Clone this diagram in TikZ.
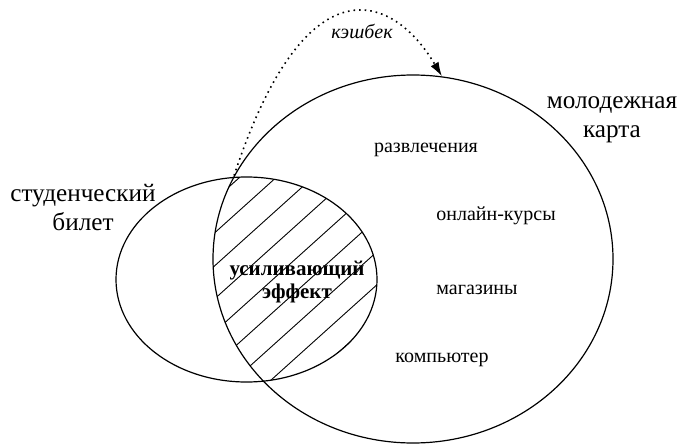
\documentclass[tikz,border=0pt]{standalone}
\usepackage{fontspec}
\setmainfont{Liberation Serif}
\usetikzlibrary{arrows.meta,shapes.geometric}

\begin{document}
\begin{tikzpicture}[
  x=0.5pt, y=-0.5pt,
  set/.style={draw, ellipse, line width=0.6pt, inner sep=0pt},
  title/.style={font=\fontsize{12.6}{14.5}\selectfont, align=center, inner sep=0pt},
  item/.style={font=\fontsize{10}{11}\selectfont, inner sep=0pt},
  effect/.style={font=\fontsize{10.5}{11.5}\selectfont\bfseries, align=center, inner sep=0pt},
  hatch/.style={line width=0.45pt},
  cashback/.style={dotted, line width=0.8pt, -{Latex[length=2.5mm,width=1.6mm]}}
]
  \useasboundingbox (0,0) rectangle (679,444);

  \node[set, minimum width=200pt, minimum height=184pt] (card) at (413,259) {};
  \node[set, minimum width=130.5pt, minimum height=102.5pt] (ticket) at (246.5,279.5) {};

  % hatched overlap
  \begin{scope}
    \clip (card.center) ellipse [x radius=100pt, y radius=92pt];
    \clip (ticket.center) ellipse [x radius=65.25pt, y radius=51.25pt];
    \foreach \c in {360,393,...,760}
      \draw[hatch] (200,\c-180) -- (400,\c-360);
  \end{scope}

  \node[title] (ticketlabel) at (83,207) {студенческий\\билет};
  \node[title] (cardlabel) at (612,120) {молодежная\\карта};

  \node[item] (fun) at (426,150) {развлечения};
  \node[item] (courses) at (496,216) {онлайн-курсы};
  \node[item] (shops) at (477,290) {магазины};
  \node[item] (laptop) at (442,360) {компьютер};
  \node[effect] (boost) at (297,282) {усиливающий\\эффект};

  \node[item, font=\fontsize{10}{11}\selectfont\itshape] (cashlabel) at (362,31) {кэшбек};
  \draw[cashback] (card.155) .. controls (305,-40) and (392,-8) .. (card.81);
\end{tikzpicture}
\end{document}
